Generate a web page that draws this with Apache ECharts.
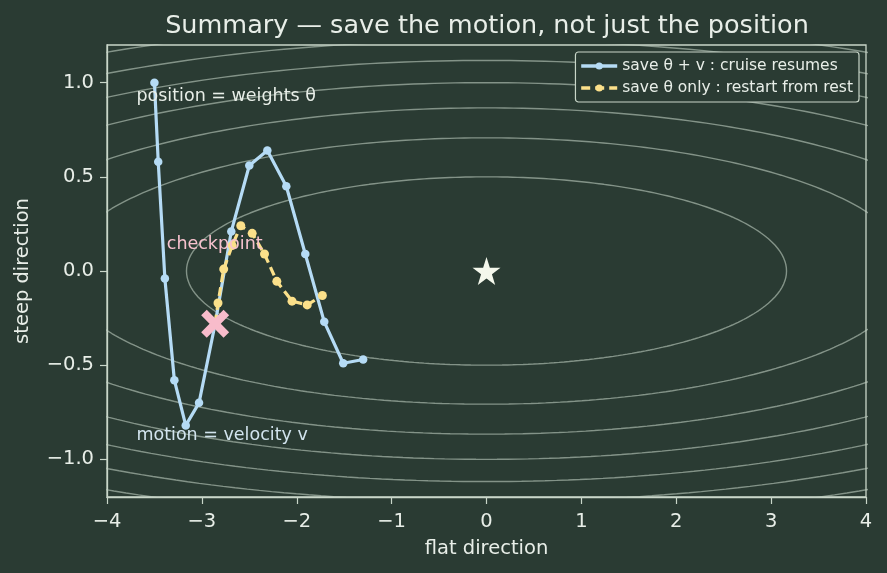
<!DOCTYPE html>
<html>
<head>
<meta charset="utf-8">
<script src="https://cdn.jsdelivr.net/npm/echarts@6/dist/echarts.min.js"></script>
<style>
html,body{margin:0;padding:0;background:#2a3b33;}
#chart{width:887px;height:573px;}
</style>
</head>
<body>
<div id="chart"></div>
<script>
// ---- data ----
const titleText = 'Summary — save the motion, not just the position';
const xTicks = [-4, -3, -2, -1, 0, 1, 2, 3, 4];
const yTicks = [-1.0, -0.5, 0.0, 0.5, 1.0];

const blueName = 'save θ + v : cruise resumes';
const blueX = [-3.50, -3.46, -3.39, -3.29, -3.17, -3.03, -2.86, -2.69, -2.50, -2.31, -2.11, -1.91, -1.71, -1.51, -1.30];
const blueY = [ 1.00,  0.58, -0.04, -0.58, -0.82, -0.70, -0.28,  0.21,  0.56,  0.64,  0.45,  0.09, -0.27, -0.49, -0.47];

const yellowName = 'save θ only : restart from rest';
const yellowX = [-2.86, -2.83, -2.77, -2.68, -2.59, -2.47, -2.34, -2.21, -2.05, -1.89, -1.73];
const yellowY = [-0.28, -0.17,  0.01,  0.135, 0.24,  0.20,  0.09, -0.055, -0.16, -0.18, -0.13];

const checkpoint = [-2.86, -0.28];
const minimum = [0, 0];

// loss = a*x^2 + b*y^2 ; contour levels
const lossA = 0.05, lossB = 2.0;
const contourLevels = [0.5, 1.0, 1.5, 2.0, 2.5, 3.0, 3.5];

const annotations = [
  {text: 'position = weights θ', x: -3.69, y: 0.925, color: '#e8eee8'},
  {text: 'motion = velocity v', x: -3.69, y: -0.875, color: '#d2e4ee'},
  {text: 'checkpoint', x: -3.37, y: 0.14, color: '#f8c2ce'}
];

// ---- build ----
const fg = '#e8eee8';
const axisCol = '#c9d6c9';
const blue = '#b5dbf5';
const yellow = '#fbe08a';
const pink = '#f8bccb';

function fmtMinus(s){ return String(s).replace('-', '\u2212'); }

const series = [];
contourLevels.forEach(function(L){
  const rx = Math.sqrt(L / lossA), ry = Math.sqrt(L / lossB);
  const pts = [];
  for (let i = 0; i <= 360; i++) {
    const t = i / 360 * 2 * Math.PI;
    pts.push([rx * Math.cos(t), ry * Math.sin(t)]);
  }
  series.push({
    type: 'line', data: pts, showSymbol: false, silent: true, clip: true,
    lineStyle: {color: 'rgba(192,207,194,0.6)', width: 1.4}, z: 1,
    animation: false
  });
});

series.push({
  name: blueName, type: 'line', z: 3,
  data: blueX.map((x, i) => [x, blueY[i]]),
  symbol: 'circle', symbolSize: 8.5, showAllSymbol: true,
  lineStyle: {color: blue, width: 3.2}, itemStyle: {color: blue, opacity: 1},
  animation: false
});
series.push({
  name: yellowName, type: 'line', z: 4,
  data: yellowX.map((x, i) => [x, yellowY[i]]),
  symbol: 'circle', symbolSize: 9, showAllSymbol: true,
  lineStyle: {color: yellow, width: 3.2, type: [9, 5]}, itemStyle: {color: yellow, opacity: 1},
  animation: false
});
series.push({
  type: 'scatter', z: 6, silent: true,
  data: [checkpoint],
  symbol: 'path://M2,0 L5,3 L8,0 L10,2 L7,5 L10,8 L8,10 L5,7 L2,10 L0,8 L3,5 L0,2 Z',
  symbolSize: 28, itemStyle: {color: pink, opacity: 1}, animation: false
});
series.push({
  type: 'scatter', z: 6, silent: true,
  data: [minimum],
  symbol: 'path://M50,0 L61.8,35.5 L99,35.5 L69,57.5 L80.4,93 L50,71 L19.6,93 L31,57.5 L1,35.5 L38.2,35.5 Z',
  symbolSize: 28, itemStyle: {color: '#f4f8ec', opacity: 1}, animation: false
});
annotations.forEach(function(a){
  series.push({
    type: 'scatter', z: 7, silent: true, symbolSize: 0,
    data: [[a.x, a.y]],
    itemStyle: {opacity: 1},
    label: {show: true, position: 'right', distance: 0, formatter: a.text, opacity: 1,
            color: a.color, fontSize: 17.5, fontFamily: 'DejaVu Sans'},
    animation: false
  });
});

const chart = echarts.init(document.getElementById('chart'));
chart.setOption({
  backgroundColor: '#2a3b33',
  animation: false,
  textStyle: {fontFamily: 'DejaVu Sans'},
  title: {
    text: titleText, left: 482, top: 8, textAlign: 'center',
    textStyle: {color: fg, fontSize: 25.5, fontWeight: 'normal', fontFamily: 'DejaVu Sans'}
  },
  legend: {
    data: [blueName, yellowName],
    orient: 'vertical', right: 28, top: 52,
    backgroundColor: '#2a3b33', borderColor: axisCol, borderWidth: 1.2, borderRadius: 3,
    padding: [6, 6, 6, 4], itemGap: 6, itemWidth: 36, itemHeight: 9,
    lineStyle: {width: 3.5},
    textStyle: {color: fg, fontSize: 15.5, fontFamily: 'DejaVu Sans'}
  },
  grid: {left: 107, right: 21, top: 45, bottom: 76, show: true, borderColor: axisCol, borderWidth: 1.3},
  xAxis: {
    type: 'value', min: -4, max: 4, interval: 1,
    name: 'flat direction', nameLocation: 'middle', nameGap: 42,
    nameTextStyle: {color: fg, fontSize: 19.5},
    axisLine: {show: true, onZero: false, lineStyle: {color: axisCol, width: 1.3}},
    axisTick: {show: true, length: 7, lineStyle: {color: axisCol, width: 1.2}},
    axisLabel: {color: fg, fontSize: 19.5, margin: 15, formatter: v => fmtMinus(v)},
    splitLine: {show: false}
  },
  yAxis: {
    type: 'value', min: -1.2, max: 1.2,
    name: 'steep direction', nameLocation: 'middle', nameGap: 74, nameRotate: 90,
    nameTextStyle: {color: fg, fontSize: 19.5},
    axisLine: {show: true, onZero: false, lineStyle: {color: axisCol, width: 1.3}},
    axisTick: {show: true, length: 7, customValues: yTicks, lineStyle: {color: axisCol, width: 1.2}},
    axisLabel: {color: fg, fontSize: 19.5, margin: 13, customValues: yTicks,
                formatter: v => fmtMinus(v.toFixed(1))},
    splitLine: {show: false}
  },
  series: series
});
</script>
</body>
</html>
